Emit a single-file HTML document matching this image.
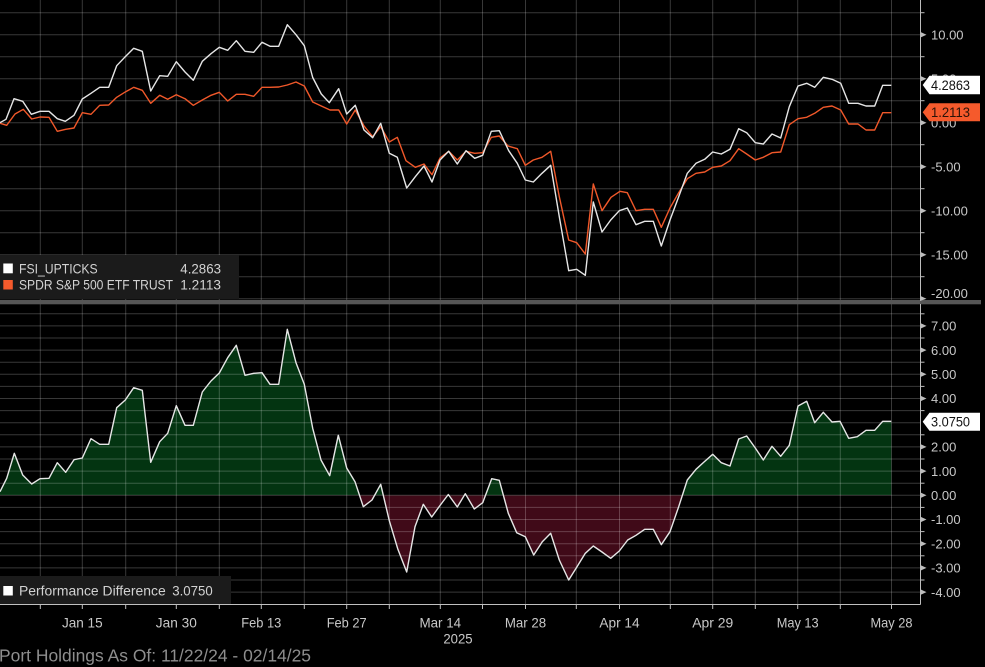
<!DOCTYPE html>
<html>
<head>
<meta charset="utf-8">
<style>
html,body{margin:0;padding:0;background:#000;}
svg{display:block;}
text{font-family:"Liberation Sans",sans-serif;}
</style>
</head>
<body>
<svg width="985" height="667" viewBox="0 0 985 667" xmlns="http://www.w3.org/2000/svg">
<rect x="0" y="0" width="985" height="667" fill="#000"/>
<defs>
<clipPath id="above"><rect x="0" y="304" width="920" height="191.3"/></clipPath>
<clipPath id="below"><rect x="0" y="495.3" width="920" height="109"/></clipPath>
</defs>

<!-- Bottom fills -->
<g>
<polygon clip-path="url(#above)" fill="#033411" points="0,495.3 0,491.7 6.7,478.3 14.3,453.3 22.7,475 31.7,484 40,478.7 49,478.3 57.3,462.7 65.7,472.3 74,459.7 82.3,458 91,438.7 99.7,444.3 108.7,444.3 116.7,407.7 125.3,400 133.7,387.7 142.3,390.3 150.7,462.3 159.7,441.7 167.7,433.3 176.3,405.7 185,425.3 193.3,425.3 202.3,392 211,381 219.3,373 227.7,357.7 236.3,345.3 245,375.3 253.7,373.3 262,372.7 270,384.3 278.7,384.3 287.3,329.3 296,362.7 304.3,384.3 312.7,428.3 321,460 329.7,475.7 338.3,435.3 346.7,468 355,481.7 363.3,506.7 372,500 380.7,484.3 389.3,520.7 397.7,548.7 406.7,572 415,526.7 423.3,504.3 431.7,517 440,505.5 448.3,494.5 457.3,507 465.3,493.7 474.3,509 482.7,502.7 491.7,478.7 499.3,480.3 508.3,513.3 516.7,532.7 525.3,536.7 533.7,555 542.3,541.7 550.7,533.3 559.3,560 568.7,580 576.7,567.3 585.3,553.3 593.3,546 602,552 610.7,558.3 619.3,551 627.7,540 636,535.3 644.7,529.3 653.3,529.3 661.3,544.7 670,531.7 678.7,506.7 687.3,480 696,469.3 704,462 712.7,454.3 721.3,462.7 730,466 738.7,439 746.7,436 755.3,448 763.3,460 772,446.3 780.7,456.3 789.3,445.3 798,406 806.7,401.3 814.7,422.7 823.3,412.3 832,422 840,421.3 848.7,438.3 857.3,436.7 866,430.3 874.7,430.3 882.7,421.3 891.3,421.3 891.3,495.3"/>
<polygon clip-path="url(#below)" fill="#400a18" points="0,495.3 0,491.7 6.7,478.3 14.3,453.3 22.7,475 31.7,484 40,478.7 49,478.3 57.3,462.7 65.7,472.3 74,459.7 82.3,458 91,438.7 99.7,444.3 108.7,444.3 116.7,407.7 125.3,400 133.7,387.7 142.3,390.3 150.7,462.3 159.7,441.7 167.7,433.3 176.3,405.7 185,425.3 193.3,425.3 202.3,392 211,381 219.3,373 227.7,357.7 236.3,345.3 245,375.3 253.7,373.3 262,372.7 270,384.3 278.7,384.3 287.3,329.3 296,362.7 304.3,384.3 312.7,428.3 321,460 329.7,475.7 338.3,435.3 346.7,468 355,481.7 363.3,506.7 372,500 380.7,484.3 389.3,520.7 397.7,548.7 406.7,572 415,526.7 423.3,504.3 431.7,517 440,505.5 448.3,494.5 457.3,507 465.3,493.7 474.3,509 482.7,502.7 491.7,478.7 499.3,480.3 508.3,513.3 516.7,532.7 525.3,536.7 533.7,555 542.3,541.7 550.7,533.3 559.3,560 568.7,580 576.7,567.3 585.3,553.3 593.3,546 602,552 610.7,558.3 619.3,551 627.7,540 636,535.3 644.7,529.3 653.3,529.3 661.3,544.7 670,531.7 678.7,506.7 687.3,480 696,469.3 704,462 712.7,454.3 721.3,462.7 730,466 738.7,439 746.7,436 755.3,448 763.3,460 772,446.3 780.7,456.3 789.3,445.3 798,406 806.7,401.3 814.7,422.7 823.3,412.3 832,422 840,421.3 848.7,438.3 857.3,436.7 866,430.3 874.7,430.3 882.7,421.3 891.3,421.3 891.3,495.3"/>
</g>

<!-- Grid lines -->
<g stroke="#ffffff" stroke-opacity="0.22" stroke-width="1">
<line x1="0" x2="920" y1="12.7" y2="12.7"/>
<line x1="0" x2="920" y1="34.7" y2="34.7"/>
<line x1="0" x2="920" y1="56.7" y2="56.7"/>
<line x1="0" x2="920" y1="78.7" y2="78.7"/>
<line x1="0" x2="920" y1="100.7" y2="100.7"/>
<line x1="0" x2="920" y1="122.7" y2="122.7"/>
<line x1="0" x2="920" y1="144.7" y2="144.7"/>
<line x1="0" x2="920" y1="166.7" y2="166.7"/>
<line x1="0" x2="920" y1="188.7" y2="188.7"/>
<line x1="0" x2="920" y1="210.7" y2="210.7"/>
<line x1="0" x2="920" y1="232.7" y2="232.7"/>
<line x1="0" x2="920" y1="254.7" y2="254.7"/>
<line x1="0" x2="920" y1="276.7" y2="276.7"/>
<line x1="0" x2="920" y1="298.7" y2="298.7"/>
<line x1="0" x2="920" y1="313.8" y2="313.8"/>
<line x1="0" x2="920" y1="325.9" y2="325.9"/>
<line x1="0" x2="920" y1="338" y2="338"/>
<line x1="0" x2="920" y1="350.1" y2="350.1"/>
<line x1="0" x2="920" y1="362.2" y2="362.2"/>
<line x1="0" x2="920" y1="374.3" y2="374.3"/>
<line x1="0" x2="920" y1="386.4" y2="386.4"/>
<line x1="0" x2="920" y1="398.5" y2="398.5"/>
<line x1="0" x2="920" y1="410.6" y2="410.6"/>
<line x1="0" x2="920" y1="422.7" y2="422.7"/>
<line x1="0" x2="920" y1="434.8" y2="434.8"/>
<line x1="0" x2="920" y1="446.9" y2="446.9"/>
<line x1="0" x2="920" y1="459" y2="459"/>
<line x1="0" x2="920" y1="471.1" y2="471.1"/>
<line x1="0" x2="920" y1="483.2" y2="483.2"/>
<line x1="0" x2="920" y1="495.3" y2="495.3"/>
<line x1="0" x2="920" y1="507.4" y2="507.4"/>
<line x1="0" x2="920" y1="519.5" y2="519.5"/>
<line x1="0" x2="920" y1="531.6" y2="531.6"/>
<line x1="0" x2="920" y1="543.7" y2="543.7"/>
<line x1="0" x2="920" y1="555.8" y2="555.8"/>
<line x1="0" x2="920" y1="567.9" y2="567.9"/>
<line x1="0" x2="920" y1="580" y2="580"/>
<line x1="0" x2="920" y1="592.1" y2="592.1"/>
<line y1="0" y2="604" x1="40.3" x2="40.3"/>
<line y1="0" y2="604" x1="82.3" x2="82.3"/>
<line y1="0" y2="604" x1="125.7" x2="125.7"/>
<line y1="0" y2="604" x1="176.3" x2="176.3"/>
<line y1="0" y2="604" x1="219.3" x2="219.3"/>
<line y1="0" y2="604" x1="261.3" x2="261.3"/>
<line y1="0" y2="604" x1="304.3" x2="304.3"/>
<line y1="0" y2="604" x1="346.7" x2="346.7"/>
<line y1="0" y2="604" x1="389.3" x2="389.3"/>
<line y1="0" y2="604" x1="440.3" x2="440.3"/>
<line y1="0" y2="604" x1="482.5" x2="482.5"/>
<line y1="0" y2="604" x1="525.5" x2="525.5"/>
<line y1="0" y2="604" x1="576.3" x2="576.3"/>
<line y1="0" y2="604" x1="619.5" x2="619.5"/>
<line y1="0" y2="604" x1="670.3" x2="670.3"/>
<line y1="0" y2="604" x1="712.7" x2="712.7"/>
<line y1="0" y2="604" x1="755.3" x2="755.3"/>
<line y1="0" y2="604" x1="797.7" x2="797.7"/>
<line y1="0" y2="604" x1="840.3" x2="840.3"/>
<line y1="0" y2="604" x1="891.5" x2="891.5"/>
</g>

<!-- Top series -->
<polyline fill="none" stroke="#f0582a" stroke-width="1.4" stroke-linejoin="round" points="0,123.3 6.7,125.3 15,114 23.3,109.3 31.7,119 40,117 49,117.3 57.3,131.3 65.7,129.3 74,128 82.3,112.7 91,114.3 99.7,105.3 108.7,105 116.7,97.3 124.7,92.3 133.7,87.3 142.3,90.3 150.7,103.3 159.7,95.3 167.7,99.3 176.3,94.7 185,98.7 193.3,105.3 202.3,100 211,95.3 219.3,92.3 227.7,101 236.3,94.3 245,94.3 253.7,96.3 262,87.3 270,87.3 278.7,87 287.3,85 296,82 304.3,86 312.7,102 321.3,106 330,110 338.7,110 346.7,124 355.3,110 364,126 372.7,136.7 380.7,126.7 389.3,142 397.3,137.3 406,160.7 415.3,167.3 424,164 432,174.7 440,158 448.7,151.3 457.3,160 466,151.3 474.7,153.3 482.7,152.7 491.3,137.3 499.3,136 508,146 517.3,148.7 525.3,165.3 533.3,160 542,157.3 550.7,151.3 559.3,196.7 568.7,240 576.7,242.7 585.3,254 593.3,184 602,210.7 611,197.3 620,191.3 627.3,192.7 636,210.7 644.7,209.3 653.3,209.3 661.3,227.3 670,208 678.7,192.7 687.3,178.7 696,173.3 704.7,172 712.7,167.3 721.3,166 730,160.7 738.7,148.7 746.7,154 755.3,160 763.3,157.3 772,152.7 780.7,152 789.3,124.7 798,118.7 806.7,117.3 814.7,113.3 823.3,107.3 832,106 840.7,110 848.7,124 858,124 866,130 874.7,130 882.7,112.7 891.3,112.7"/>
<polyline fill="none" stroke="#e6e6e6" stroke-width="1.4" stroke-linejoin="round" points="0,122.7 6,119.3 14,98.7 22.7,101.3 31.3,114.3 40,111.3 49,111.3 57.3,118.7 65.3,121.3 74,115.3 82.3,99 91,93.3 99.7,87.3 108.7,87.3 116.7,65.7 124.7,57.3 133.7,48.3 142.3,51.3 150.7,91 159.7,75.7 167.7,76.3 176.3,61.7 185,72 193.3,80.3 202.3,61.3 211,53.7 219.3,47.3 227.7,50.3 236.3,40.7 245,51.3 253.7,52.3 262,42.3 270,46.3 278.7,46.3 287.3,24.7 296,34.7 304.3,45.7 312.7,77.5 321.3,94 329.3,102.7 338.7,88.7 346.7,114 355.3,105.3 364,130 372.7,137.7 380.7,123.3 389.3,153.3 397.3,157.3 406.7,188 415.3,176.7 424,166 432,182 440,160 448.7,151.3 457.3,164 466,150.7 474.7,158.3 482.7,155.3 491.3,131.3 499.3,130.7 508.7,150.7 517.3,163.3 525.3,180 533.3,182 542,173.3 550.7,165.3 559.3,216.7 568.7,270.7 576.7,269.3 585.3,275.3 593.3,202 602,232 610.7,220 619.3,210.7 627.3,208 636,224.7 644.7,221.3 653.3,221.3 661.3,246 670,220 678.7,196.7 687.3,173.3 696,163.3 704.7,159.3 712.7,152 721.3,154 730,149.3 738.7,128.7 746.7,132.7 755.3,142.7 763.3,144 772,134 780.7,138 789.3,106.7 798,86 806.7,83.3 814.7,87.3 823.3,77.3 832,79.3 840.7,83.3 848.7,103.3 858,103.3 866,106 874.7,106 882.7,85.3 891.3,85.3"/>

<!-- Bottom series line -->
<polyline fill="none" stroke="#e6e6e6" stroke-width="1.4" stroke-linejoin="round" points="0,491.7 6.7,478.3 14.3,453.3 22.7,475 31.7,484 40,478.7 49,478.3 57.3,462.7 65.7,472.3 74,459.7 82.3,458 91,438.7 99.7,444.3 108.7,444.3 116.7,407.7 125.3,400 133.7,387.7 142.3,390.3 150.7,462.3 159.7,441.7 167.7,433.3 176.3,405.7 185,425.3 193.3,425.3 202.3,392 211,381 219.3,373 227.7,357.7 236.3,345.3 245,375.3 253.7,373.3 262,372.7 270,384.3 278.7,384.3 287.3,329.3 296,362.7 304.3,384.3 312.7,428.3 321,460 329.7,475.7 338.3,435.3 346.7,468 355,481.7 363.3,506.7 372,500 380.7,484.3 389.3,520.7 397.7,548.7 406.7,572 415,526.7 423.3,504.3 431.7,517 440,505.5 448.3,494.5 457.3,507 465.3,493.7 474.3,509 482.7,502.7 491.7,478.7 499.3,480.3 508.3,513.3 516.7,532.7 525.3,536.7 533.7,555 542.3,541.7 550.7,533.3 559.3,560 568.7,580 576.7,567.3 585.3,553.3 593.3,546 602,552 610.7,558.3 619.3,551 627.7,540 636,535.3 644.7,529.3 653.3,529.3 661.3,544.7 670,531.7 678.7,506.7 687.3,480 696,469.3 704,462 712.7,454.3 721.3,462.7 730,466 738.7,439 746.7,436 755.3,448 763.3,460 772,446.3 780.7,456.3 789.3,445.3 798,406 806.7,401.3 814.7,422.7 823.3,412.3 832,422 840,421.3 848.7,438.3 857.3,436.7 866,430.3 874.7,430.3 882.7,421.3 891.3,421.3"/>

<!-- Separator bar -->
<rect x="0" y="300" width="981" height="4.3" fill="#565656"/>

<!-- Right axis lines -->
<line x1="920.5" x2="920.5" y1="0" y2="300" stroke="#bdbdbd" stroke-width="1"/>
<line x1="920.5" x2="920.5" y1="304" y2="604.5" stroke="#bdbdbd" stroke-width="1"/>

<!-- Top axis ticks -->
<g fill="#bdbdbd">
<polygon points="920,31.7 926.5,34.7 920,37.7"/>
<polygon points="920,75.7 926.5,78.7 920,81.7"/>
<polygon points="920,119.7 926.5,122.7 920,125.7"/>
<polygon points="920,163.7 926.5,166.7 920,169.7"/>
<polygon points="920,207.7 926.5,210.7 920,213.7"/>
<polygon points="920,251.7 926.5,254.7 920,257.7"/>
<polygon points="920,295.7 926.5,298.7 920,301"/>
</g>
<g stroke="#bdbdbd" stroke-width="1">
<line x1="920" x2="924.5" y1="12.7" y2="12.7"/>
<line x1="920" x2="924.5" y1="56.7" y2="56.7"/>
<line x1="920" x2="924.5" y1="100.7" y2="100.7"/>
<line x1="920" x2="924.5" y1="144.7" y2="144.7"/>
<line x1="920" x2="924.5" y1="188.7" y2="188.7"/>
<line x1="920" x2="924.5" y1="232.7" y2="232.7"/>
<line x1="920" x2="924.5" y1="276.7" y2="276.7"/>
</g>
<g fill="#c8c8c8" font-size="13">
<text x="931" y="39.4">10.00</text>
<text x="931" y="83.4">5.00</text>
<text x="931" y="127.4">0.00</text>
<text x="931" y="171.4">-5.00</text>
<text x="931" y="215.4">-10.00</text>
<text x="931" y="259.4">-15.00</text>
<text x="931" y="298.2">-20.00</text>
</g>

<!-- Bottom axis ticks -->
<g fill="#bdbdbd">
<polygon points="920,322.9 926.5,325.9 920,328.9"/>
<polygon points="920,347.1 926.5,350.1 920,353.1"/>
<polygon points="920,371.3 926.5,374.3 920,377.3"/>
<polygon points="920,395.5 926.5,398.5 920,401.5"/>
<polygon points="920,443.9 926.5,446.9 920,449.9"/>
<polygon points="920,468.1 926.5,471.1 920,474.1"/>
<polygon points="920,492.3 926.5,495.3 920,498.3"/>
<polygon points="920,516.5 926.5,519.5 920,522.5"/>
<polygon points="920,540.7 926.5,543.7 920,546.7"/>
<polygon points="920,564.9 926.5,567.9 920,570.9"/>
<polygon points="920,589.1 926.5,592.1 920,595.1"/>
</g>
<g stroke="#bdbdbd" stroke-width="1">
<line x1="920" x2="924.5" y1="313.8" y2="313.8"/>
<line x1="920" x2="924.5" y1="338" y2="338"/>
<line x1="920" x2="924.5" y1="362.2" y2="362.2"/>
<line x1="920" x2="924.5" y1="386.4" y2="386.4"/>
<line x1="920" x2="924.5" y1="410.6" y2="410.6"/>
<line x1="920" x2="924.5" y1="434.8" y2="434.8"/>
<line x1="920" x2="924.5" y1="459" y2="459"/>
<line x1="920" x2="924.5" y1="483.2" y2="483.2"/>
<line x1="920" x2="924.5" y1="507.4" y2="507.4"/>
<line x1="920" x2="924.5" y1="531.6" y2="531.6"/>
<line x1="920" x2="924.5" y1="555.8" y2="555.8"/>
<line x1="920" x2="924.5" y1="580" y2="580"/>
</g>
<g fill="#c8c8c8" font-size="13">
<text x="931" y="330.6">7.00</text>
<text x="931" y="354.8">6.00</text>
<text x="931" y="379">5.00</text>
<text x="931" y="403.2">4.00</text>
<text x="931" y="427.4">3.00</text>
<text x="931" y="451.6">2.00</text>
<text x="931" y="475.8">1.00</text>
<text x="931" y="500">0.00</text>
<text x="931" y="524.2">-1.00</text>
<text x="931" y="548.4">-2.00</text>
<text x="931" y="572.6">-3.00</text>
<text x="931" y="596.8">-4.00</text>
</g>

<!-- Value boxes -->
<polygon points="922.7,85 929.5,75.7 980,75.7 980,94.3 929.5,94.3" fill="#ffffff"/>
<text x="931" y="89.8" font-size="13.5" fill="#111" textLength="39" lengthAdjust="spacingAndGlyphs">4.2863</text>
<polygon points="922.7,112.3 929.5,103.3 980,103.3 980,121.3 929.5,121.3" fill="#f55a2c"/>
<text x="931" y="117.1" font-size="13.5" fill="#2a1208" textLength="39" lengthAdjust="spacingAndGlyphs">1.2113</text>
<polygon points="922.7,421.7 929.5,412.7 980,412.7 980,430.7 929.5,430.7" fill="#ffffff"/>
<text x="931" y="426.5" font-size="13.5" fill="#111" textLength="39" lengthAdjust="spacingAndGlyphs">3.0750</text>

<!-- Top legend -->
<rect x="0" y="255" width="239" height="44" fill="#1b1b1b"/>
<rect x="3.3" y="263.5" width="9.5" height="9.8" fill="#ffffff"/>
<rect x="3.3" y="280" width="9.5" height="9.5" fill="#f55a2c"/>
<g fill="#d2d2d2" font-size="14">
<text x="19" y="273.3" textLength="78.7" lengthAdjust="spacingAndGlyphs">FSI_UPTICKS</text>
<text x="180.3" y="273.3" textLength="40.7" lengthAdjust="spacingAndGlyphs">4.2863</text>
<text x="19" y="289.5" textLength="154" lengthAdjust="spacingAndGlyphs">SPDR S&amp;P 500 ETF TRUST</text>
<text x="180.3" y="289.5" textLength="40.7" lengthAdjust="spacingAndGlyphs">1.2113</text>
</g>

<!-- Bottom legend -->
<rect x="0" y="576" width="231" height="28" fill="#1b1b1b"/>
<rect x="3.3" y="586" width="9.5" height="9.5" fill="#ffffff"/>
<g fill="#d2d2d2" font-size="14">
<text x="19" y="595.4" textLength="146.7" lengthAdjust="spacingAndGlyphs">Performance Difference</text>
<text x="172.3" y="595.4" textLength="40.4" lengthAdjust="spacingAndGlyphs">3.0750</text>
</g>

<!-- X axis -->
<line x1="0" x2="920.5" y1="604.5" y2="604.5" stroke="#c0c0c0" stroke-width="1"/>
<g stroke="#c0c0c0" stroke-width="1">
<line y1="604" y2="609" x1="40.3" x2="40.3"/>
<line y1="604" y2="609" x1="82.3" x2="82.3"/>
<line y1="604" y2="609" x1="125.7" x2="125.7"/>
<line y1="604" y2="609" x1="176.3" x2="176.3"/>
<line y1="604" y2="609" x1="219.3" x2="219.3"/>
<line y1="604" y2="609" x1="261.3" x2="261.3"/>
<line y1="604" y2="609" x1="304.3" x2="304.3"/>
<line y1="604" y2="609" x1="346.7" x2="346.7"/>
<line y1="604" y2="609" x1="389.3" x2="389.3"/>
<line y1="604" y2="609" x1="440.3" x2="440.3"/>
<line y1="604" y2="609" x1="482.5" x2="482.5"/>
<line y1="604" y2="609" x1="525.5" x2="525.5"/>
<line y1="604" y2="609" x1="576.3" x2="576.3"/>
<line y1="604" y2="609" x1="619.5" x2="619.5"/>
<line y1="604" y2="609" x1="670.3" x2="670.3"/>
<line y1="604" y2="609" x1="712.7" x2="712.7"/>
<line y1="604" y2="609" x1="755.3" x2="755.3"/>
<line y1="604" y2="609" x1="797.7" x2="797.7"/>
<line y1="604" y2="609" x1="840.3" x2="840.3"/>
<line y1="604" y2="609" x1="891.5" x2="891.5"/>
</g>
<g fill="#c8c8c8" font-size="14" text-anchor="middle">
<text x="82.3" y="627.4" textLength="40.7" lengthAdjust="spacingAndGlyphs">Jan 15</text>
<text x="176.3" y="627.4" textLength="41" lengthAdjust="spacingAndGlyphs">Jan 30</text>
<text x="261.3" y="627.4" textLength="40" lengthAdjust="spacingAndGlyphs">Feb 13</text>
<text x="346.7" y="627.4" textLength="40" lengthAdjust="spacingAndGlyphs">Feb 27</text>
<text x="440.3" y="627.4" textLength="41.7" lengthAdjust="spacingAndGlyphs">Mar 14</text>
<text x="525.5" y="627.4" textLength="41.3" lengthAdjust="spacingAndGlyphs">Mar 28</text>
<text x="619.5" y="627.4" textLength="40.3" lengthAdjust="spacingAndGlyphs">Apr 14</text>
<text x="712.7" y="627.4" textLength="41" lengthAdjust="spacingAndGlyphs">Apr 29</text>
<text x="797.7" y="627.4" textLength="42" lengthAdjust="spacingAndGlyphs">May 13</text>
<text x="891.5" y="627.4" textLength="42" lengthAdjust="spacingAndGlyphs">May 28</text>
<text x="458" y="643.3" textLength="29.3" lengthAdjust="spacingAndGlyphs">2025</text>
</g>

<!-- Footer -->
<text x="-1" y="661.7" font-size="17.5" fill="#8e8e8e" textLength="312" lengthAdjust="spacingAndGlyphs">Port Holdings As Of: 11/22/24 - 02/14/25</text>
</svg>
</body>
</html>
